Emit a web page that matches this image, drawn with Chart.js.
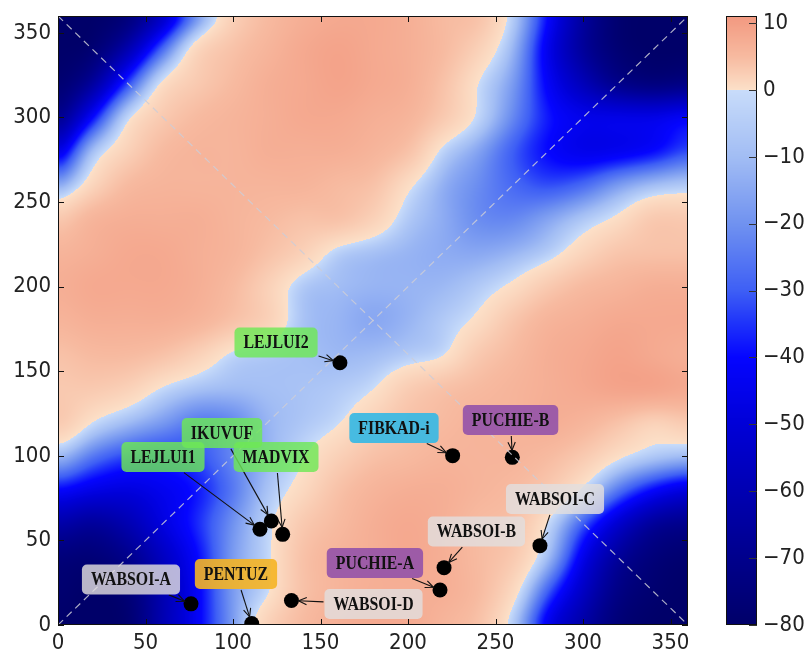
<!DOCTYPE html>
<html><head><meta charset="utf-8">
<script src="https://cdn.jsdelivr.net/npm/chart.js@4.4.0/dist/chart.umd.min.js"></script>
<style>html,body{margin:0;padding:0;background:#fff;} #wrap{position:relative;width:809px;height:654px;}</style>
</head><body><div id="wrap"><canvas id="c" width="809" height="654"></canvas></div>
<script>
// ---------------- DATA ----------------
const gridX = [0,20,40,60,80,100,120,140,160,180,200,220,240,260,280,300,320,340,360];
const gridY = [0,20,40,60,80,100,120,140,160,180,200,220,240,260,280,300,320,340,360];
// field values, one row per gridY (bottom to top), one column per gridX
const fieldValues = [
  [-80,-80,-78,-60,-42,-18, 2, 5, 7, 8, 8, 6, 4, -6,-45,-63,-76,-80,-80],
  [-78,-80,-76,-60,-42,-18,-1, 4, 6, 7, 7, 7, 5,  1,-30,-55,-72,-78,-80],
  [-75,-76,-70,-56,-40,-18,-2, 4, 6, 7, 8, 7, 5,  3,-10,-45,-66,-75,-78],
  [-62,-66,-60,-48,-36,-20,-3, 3, 5, 7, 8, 7, 5,  4, -1,-30,-52,-66,-70],
  [-40,-46,-48,-44,-38,-25,-8, 1, 4, 6, 7, 7, 6,  5,  3, -2,-25,-40,-48],
  [-10,-25,-33,-35,-32,-22,-12,-1, 2, 4, 5, 6, 6,  6,  5,  3,0.5, -6,-10],
  [  3,  0,-10,-18,-25,-22,-12,-7,-1, 2, 4, 5, 6,  6,  7,  6,  4,  2,  3],
  [  3,  3,  2, -1, -8,-10, -9,-8,-6,-0.5,2.5,4,5, 6,  7,  8,  9,  9,  8],
  [  4,  5,  5,  4,  2, -2, -6,-9,-11,-10,-6,-1,3, 5,  7,  8,  9,  8,  7],
  [  6,  7,  7,  7,  6,  4,  2,-8,-12,-15,-12,-6,0.5,3.5,6,7,  8,  8,  8],
  [  7,  8,  8,  8,  7,  5,  2,-6,-10,-12,-12,-11,-6,0.5,3,5,  6,  7,  7],
  [  6,  7,  8,  8,  7,  6,  4, 2,-4,-9,-12,-14,-15,-12,-5,1.5,3.5,4, 4],
  [  3,  6,  7,  7,  7,  6,  5, 4, 4, 2, -6,-14,-21,-22,-16,-7,0.5, 3, 3],
  [-16,1.5,  5,  6,  6,  6,  6, 6, 5, 4,0.5,-13,-21,-28,-32,-28,-18,-10,-6],
  [-48, -9,  2,  5,  6,  6,  7, 7, 7, 6,  4, -3,-16,-30,-40,-45,-44,-40,-32],
  [-70,-40, -2,  3,  5,  6,  7, 8, 8, 7,  6,  3, -2,-22,-38,-45,-46,-46,-42],
  [-78,-65,-33,0.5,  3,  5,  7, 8, 9, 8,  7,  4,  0,-18,-42,-58,-70,-74,-72],
  [-80,-77,-60,-27,1.5,  4,  6, 8, 9, 8,  7,  5,  2,-12,-45,-66,-77,-80,-80],
  [-80,-80,-75,-55,-20,  2,  5, 7, 8, 8,  7,  5,  4, -5,-40,-65,-78,-80,-80]
];
const axisTicks = [0,50,100,150,200,250,300,350];
const colorbarTicks = [10,0,-10,-20,-30,-40,-50,-60,-70,-80];
const siteNames = ['LEJLUI2','IKUVUF','LEJLUI1','MADVIX','FIBKAD-i','PUCHIE-B','WABSOI-C','WABSOI-B','PUCHIE-A','WABSOI-D','PENTUZ','WABSOI-A'];
const siteX = [161.1,121.9,115.4,128.4,225.5,259.6,275.4,220.6,218.3,133.4,110.7,76.0];
const siteY = [155.0, 61.5, 56.6, 53.6,100.1, 99.1, 46.9, 33.9, 20.7, 14.5,  0.9,12.5];
const diagonalUp = [{x:0,y:0},{x:360,y:360}];
const diagonalDown = [{x:0,y:360},{x:360,y:0}];

// ---------------- ANNOTATION LAYOUT (text centres in data units) ----------------
const labelCentres = [[124.6,167.0],[93.7,113.5],[60.0,99.3],[124.6,99.3],[192.0,116.4],[258.6,121.2],[284.0,74.5],[239.1,55.3],[181.1,36.6],[180.3,12.4],[101.7,30.1],[41.7,26.9]];
const GREEN='rgba(110,232,85,0.82)', CYAN='rgba(55,185,228,0.92)', PURPLE='rgba(145,80,170,0.88)', GREY='rgba(226,222,222,0.82)', GOLD='rgba(245,180,35,0.9)';
const labelFills = [GREEN,GREEN,GREEN,GREEN,CYAN,PURPLE,GREY,GREY,PURPLE,GREY,GOLD,GREY];

// ---------------- COLOR MAP ----------------
const cmapStops = [
  [-80,[0,0,105]],[-70,[0,0,140]],[-60,[0,0,178]],[-50,[0,0,215]],[-40,[5,5,255]],
  [-35,[30,50,250]],[-30,[62,95,245]],[-20,[112,146,240]],[-10,[162,189,244]],[-0.001,[200,220,250]],
  [0,[252,224,200]],[5,[247,186,160]],[10,[243,158,133]],[12,[241,150,126]]
];
function cmap(v){
  if (v <= cmapStops[0][0]) return cmapStops[0][1];
  for (let k=1;k<cmapStops.length;k++){
    const a=cmapStops[k-1], b=cmapStops[k];
    if (v <= b[0]){
      const t=(v-a[0])/(b[0]-a[0]);
      return [a[1][0]+(b[1][0]-a[1][0])*t, a[1][1]+(b[1][1]-a[1][1])*t, a[1][2]+(b[1][2]-a[1][2])*t];
    }
  }
  return cmapStops[cmapStops.length-1][1];
}
// smoothing is done on a compressed scale for negatives so the steep blue side and the
// flat salmon side join without ripples
const NEG = 6;
const fwd = v => v < 0 ? v / NEG : v;
const inv = g => g < 0 ? g * NEG : g;
function cr(p0,p1,p2,p3,t){
  return 0.5*((2*p1)+(-p0+p2)*t+(2*p0-5*p1+4*p2-p3)*t*t+(-p0+3*p1-3*p2+p3)*t*t*t);
}
function sampleField(xv,yv){
  const nx=gridX.length, ny=gridY.length;
  const fx=(xv-gridX[0])/(gridX[1]-gridX[0]), fy=(yv-gridY[0])/(gridY[1]-gridY[0]);
  let i=Math.floor(fx), j=Math.floor(fy);
  i=Math.max(0,Math.min(nx-2,i)); j=Math.max(0,Math.min(ny-2,j));
  const tx=fx-i, ty=fy-j;
  const g=(jj,ii)=>fwd(fieldValues[Math.max(0,Math.min(ny-1,jj))][Math.max(0,Math.min(nx-1,ii))]);
  const r=[];
  for (let m=-1;m<=2;m++) r.push(cr(g(j+m,i-1),g(j+m,i),g(j+m,i+1),g(j+m,i+2),tx));
  return cr(r[0],r[1],r[2],r[3],ty);
}
function blur(src,w,h,r){
  const tmp=new Float32Array(w*h), out=new Float32Array(w*h);
  for (let y=0;y<h;y++){
    const pre=new Float64Array(w+1);
    for (let x=0;x<w;x++) pre[x+1]=pre[x]+src[y*w+x];
    for (let x=0;x<w;x++){ const a=Math.max(0,x-r), b=Math.min(w-1,x+r); tmp[y*w+x]=(pre[b+1]-pre[a])/(b-a+1); }
  }
  for (let x=0;x<w;x++){
    const pre=new Float64Array(h+1);
    for (let y=0;y<h;y++) pre[y+1]=pre[y]+tmp[y*w+x];
    for (let y=0;y<h;y++){ const a=Math.max(0,y-r), b=Math.min(h-1,y+r); out[y*w+x]=(pre[b+1]-pre[a])/(b-a+1); }
  }
  return out;
}

const fieldPlugin = {
  id:'field',
  beforeDatasetsDraw(chart){
    const ctx=chart.ctx, a=chart.chartArea, xs=chart.scales.x, ys=chart.scales.y, cb=chart.scales.cb;
    const w=Math.round(a.right-a.left), h=Math.round(a.bottom-a.top);
    const off=document.createElement('canvas'); off.width=w; off.height=h;
    const octx=off.getContext('2d'); const img=octx.createImageData(w,h); const d=img.data;
    const xv=[]; for (let px=0;px<w;px++) xv.push(xs.getValueForPixel(a.left+px+0.5));
    let G=new Float32Array(w*h);
    for (let py=0;py<h;py++){
      const yv=ys.getValueForPixel(a.top+py+0.5);
      for (let px=0;px<w;px++) G[py*w+px]=sampleField(xv[px],yv);
    }
    G=blur(G,w,h,5); G=blur(G,w,h,4);
    for (let k=0;k<w*h;k++){
      const v=Math.max(-80,Math.min(11,inv(G[k])));
      const c=cmap(v); const o=k*4;
      d[o]=c[0]; d[o+1]=c[1]; d[o+2]=c[2]; d[o+3]=255;
    }
    octx.putImageData(img,0,0);
    ctx.drawImage(off,a.left,a.top);
    // colour bar
    const bx0=cb.left+38, bx1=cb.left+69;
    for (let py=Math.round(cb.top);py<Math.round(cb.bottom);py++){
      const c=cmap(cb.getValueForPixel(py+0.5));
      ctx.fillStyle='rgb('+Math.round(c[0])+','+Math.round(c[1])+','+Math.round(c[2])+')';
      ctx.fillRect(bx0,py,bx1-bx0,1);
    }
    ctx.save();
    ctx.strokeStyle='#111'; ctx.lineWidth=1;
    ctx.strokeRect(bx0+0.5,Math.round(cb.top)+0.5,bx1-bx0-1,Math.round(cb.bottom-cb.top)-1);
    ctx.strokeStyle='#333';
    cb.ticks.forEach(t=>{
      const p=Math.round(cb.getPixelForValue(t.value))+0.5;
      ctx.beginPath(); ctx.moveTo(bx1-8,p); ctx.lineTo(bx1,p); ctx.stroke();
    });
    ctx.restore();
  },
  afterDatasetsDraw(chart){
    const ctx=chart.ctx, a=chart.chartArea, xs=chart.scales.x, ys=chart.scales.y;
    ctx.save();
    ctx.strokeStyle='#111'; ctx.lineWidth=1;
    ctx.strokeRect(Math.round(a.left)+0.5,Math.round(a.top)+0.5,Math.round(a.right-a.left)-1,Math.round(a.bottom-a.top)-1);
    xs.ticks.forEach(t=>{
      const p=Math.round(xs.getPixelForValue(t.value))+0.5;
      ctx.beginPath(); ctx.moveTo(p,a.bottom); ctx.lineTo(p,a.bottom-6); ctx.moveTo(p,a.top); ctx.lineTo(p,a.top+6); ctx.stroke();
    });
    ys.ticks.forEach(t=>{
      const p=Math.round(ys.getPixelForValue(t.value))+0.5;
      ctx.beginPath(); ctx.moveTo(a.left,p); ctx.lineTo(a.left+6,p); ctx.moveTo(a.right,p); ctx.lineTo(a.right-6,p); ctx.stroke();
    });
    ctx.font='bold 18px "Liberation Serif","Times New Roman",serif';
    const sx=0.88;
    siteNames.forEach((name,i)=>{
      const cx=xs.getPixelForValue(labelCentres[i][0]), cy=ys.getPixelForValue(labelCentres[i][1]);
      const px=xs.getPixelForValue(siteX[i]), py=ys.getPixelForValue(siteY[i]);
      const tw=ctx.measureText(name).width*sx;
      const bw=tw+18, bh=30;
      const dx=px-cx, dy=py-cy, len=Math.hypot(dx,dy), ux=dx/len, uy=dy/len;
      const tEdge=Math.min(Math.abs(ux)>1e-6?(bw/2)/Math.abs(ux):1e9, Math.abs(uy)>1e-6?(bh/2)/Math.abs(uy):1e9);
      const sxp=cx+ux*(tEdge+1), syp=cy+uy*(tEdge+1);
      const ex=px-ux*7, ey=py-uy*7;
      ctx.strokeStyle='#111'; ctx.lineWidth=1.1;
      ctx.beginPath(); ctx.moveTo(sxp,syp); ctx.lineTo(ex,ey); ctx.stroke();
      const ang=Math.atan2(uy,ux), hl=9, ha=0.42;
      ctx.beginPath();
      ctx.moveTo(ex-hl*Math.cos(ang-ha),ey-hl*Math.sin(ang-ha)); ctx.lineTo(ex,ey);
      ctx.lineTo(ex-hl*Math.cos(ang+ha),ey-hl*Math.sin(ang+ha)); ctx.stroke();
      ctx.fillStyle=labelFills[i];
      ctx.beginPath(); ctx.roundRect(cx-bw/2,cy-bh/2,bw,bh,5); ctx.fill();
      ctx.save(); ctx.translate(cx,cy+1); ctx.scale(sx,1);
      ctx.fillStyle='#111'; ctx.textAlign='center'; ctx.textBaseline='middle';
      ctx.fillText(name,0,0); ctx.restore();
    });
    ctx.restore();
  }
};

Chart.defaults.font.family="'DejaVu Sans Condensed','DejaVu Sans',sans-serif";
Chart.defaults.font.size=22;
Chart.defaults.color='#222';

const cbLabel = v => v<0 ? '\u2212'+(-v) : String(v);
const zeroPad = s => { s.paddingTop=0; s.paddingBottom=0; s.paddingLeft=0; s.paddingRight=0; };
const DASH_COLOR = 'rgba(205,205,215,0.85)';

new Chart(document.getElementById('c'), {
  type:'scatter',
  data:{datasets:[
    {type:'line', data:diagonalUp, borderColor:DASH_COLOR, borderWidth:1.2, borderDash:[7,5], pointRadius:0, fill:false},
    {type:'line', data:diagonalDown, borderColor:DASH_COLOR, borderWidth:1.2, borderDash:[7,5], pointRadius:0, fill:false},
    {label:'sites', data:siteNames.map((n,i)=>({x:siteX[i],y:siteY[i]})), backgroundColor:'#000', borderColor:'#000', borderWidth:0, pointRadius:7.5, pointHoverRadius:7.5}
  ]},
  options:{
    responsive:false, animation:false, events:[],
    layout:{padding:{top:16,left:0,right:0,bottom:0}},
    plugins:{legend:{display:false}, tooltip:{enabled:false}},
    scales:{
      x:{type:'linear', position:'bottom', min:0, max:360,
         afterBuildTicks:s=>{s.ticks=axisTicks.map(v=>({value:v}));},
         afterFit:s=>{s.height=29; zeroPad(s);},
         ticks:{padding:5, maxRotation:0, autoSkip:false, includeBounds:false},
         grid:{display:false, drawTicks:false}, border:{display:false}},
      y:{type:'linear', position:'left', min:0, max:360,
         afterBuildTicks:s=>{s.ticks=axisTicks.map(v=>({value:v}));},
         afterFit:s=>{s.width=58; zeroPad(s);},
         ticks:{padding:7, autoSkip:false, includeBounds:false},
         grid:{display:false, drawTicks:false}, border:{display:false}},
      cb:{type:'linear', axis:'y', position:'right', min:-80, max:11.05, display:true,
         afterBuildTicks:s=>{s.ticks=colorbarTicks.map(v=>({value:v}));},
         afterFit:s=>{s.width=121; zeroPad(s);},
         ticks:{padding:75, autoSkip:false, includeBounds:false, callback:cbLabel},
         grid:{display:false, drawTicks:false}, border:{display:false}}
    }
  },
  plugins:[fieldPlugin]
});
</script></body></html>
